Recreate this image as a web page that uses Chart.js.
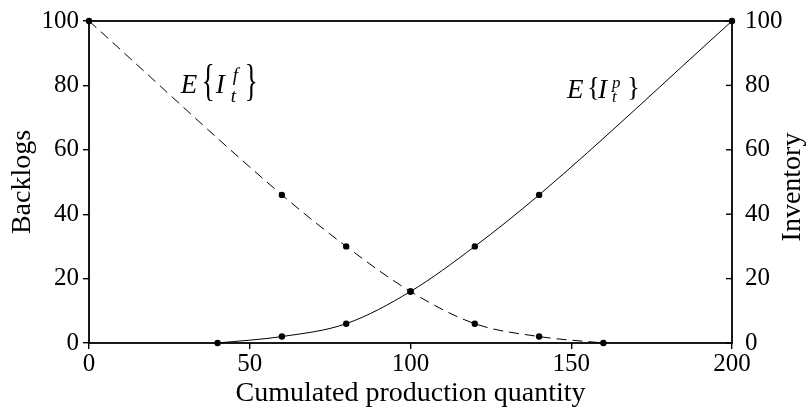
<!DOCTYPE html>
<html>
<head>
<meta charset="utf-8">
<script src="https://cdn.jsdelivr.net/npm/chart.js@4"></script>
<style>
  body { margin: 0; background: #fff; }
  #wrap { width: 809px; height: 407px; }
</style>
</head>
<body>
<div id="wrap"><canvas id="myChart"></canvas></div>
<script>
const backlogX = [0, 60, 80, 100, 120, 140, 160];
const backlogY = [100, 46, 30, 16, 6, 2, 0];
const inventoryX = [40, 60, 80, 100, 120, 140, 200];
const inventoryY = [0, 2, 6, 16, 30, 46, 100];
const xTicks = [0, 50, 100, 150, 200];
const yTicks = [0, 20, 40, 60, 80, 100];

const serif = "'Liberation Serif', 'DejaVu Serif', serif";
Chart.defaults.font.family = serif;
Chart.defaults.color = '#000';

const toPoints = (xs, ys) => xs.map((x, i) => ({ x, y: ys[i] }));

// curve labels, anchored in data units
const curveLabels = [
  { x: 28.5, y: 77.5, sup: 'f', big: true },
  { x: 148.7, y: 76.0, sup: 'p', big: false },
];

function brace(ctx, ch, x, y, big) {
  ctx.save();
  ctx.font = '27px ' + serif;
  ctx.translate(x, y);
  if (big) ctx.scale(1, 1.65);
  ctx.textBaseline = 'middle';
  ctx.fillText(ch, 0, 0);
  ctx.restore();
}

// fixed axis sizes, no extra room for half labels
const fixWidth = (w) => (s) => { s.width = w; s.paddingTop = 0; s.paddingBottom = 0; };

const extras = {
  id: 'extras',
  afterDatasetsDraw(chart) {
    const { ctx, chartArea: a, scales } = chart;
    ctx.save();
    // frame
    ctx.strokeStyle = '#000';
    ctx.lineWidth = 1.8;
    ctx.strokeRect(a.left, a.top, a.right - a.left, a.bottom - a.top);
    // inward ticks on right axis
    ctx.lineWidth = 1.4;
    scales.y2.ticks.forEach((t) => {
      const py = scales.y2.getPixelForValue(t.value);
      ctx.beginPath();
      ctx.moveTo(a.right - 6, py);
      ctx.lineTo(a.right, py);
      ctx.stroke();
    });
    // right title, reading upwards
    ctx.translate(800, (a.top + a.bottom) / 2 + 5);
    ctx.rotate(-Math.PI / 2);
    ctx.font = '28px ' + serif;
    ctx.textAlign = 'center';
    ctx.textBaseline = 'alphabetic';
    ctx.fillText('Inventory', 0, 0);
    ctx.restore();

    // E{I_t^f}, E{I_t^p}
    curveLabels.forEach((l) => {
      const px = scales.x.getPixelForValue(l.x);
      const py = scales.y.getPixelForValue(l.y);
      ctx.save();
      ctx.fillStyle = '#000';
      ctx.textBaseline = 'alphabetic';
      ctx.font = 'italic 27px ' + serif;
      ctx.fillText('E', px, py);
      if (l.big) {
        brace(ctx, '{', px + 21, py - 10, true);
        ctx.font = 'italic 27px ' + serif;
        ctx.fillText('I', px + 35, py);
        ctx.font = 'italic 19px ' + serif;
        ctx.fillText(l.sup, px + 52, py - 12);
        ctx.fillText('t', px + 50, py + 9);
        brace(ctx, '}', px + 64, py - 10, true);
      } else {
        brace(ctx, '{', px + 20, py - 9, false);
        ctx.font = 'italic 27px ' + serif;
        ctx.fillText('I', px + 31, py);
        ctx.font = 'italic 17px ' + serif;
        ctx.fillText(l.sup, px + 45, py - 10);
        ctx.fillText('t', px + 45, py + 4);
        brace(ctx, '}', px + 60, py - 9, false);
      }
      ctx.restore();
    });
  },
};

new Chart(document.getElementById('myChart'), {
  type: 'line',
  data: {
    datasets: [
      {
        label: 'Backlogs',
        data: toPoints(backlogX, backlogY),
        borderColor: '#000',
        backgroundColor: '#000',
        borderWidth: 1,
        borderDash: [10, 6],
        pointRadius: 3.2,
        pointBorderWidth: 0,
        cubicInterpolationMode: 'monotone',
        clip: false,
        yAxisID: 'y',
      },
      {
        label: 'Inventory',
        data: toPoints(inventoryX, inventoryY),
        borderColor: '#000',
        backgroundColor: '#000',
        borderWidth: 1,
        pointRadius: 3.2,
        pointBorderWidth: 0,
        cubicInterpolationMode: 'monotone',
        clip: false,
        yAxisID: 'y2',
      },
    ],
  },
  options: {
    responsive: true,
    maintainAspectRatio: false,
    animation: false,
    layout: { padding: { top: 21, left: 0, right: 0, bottom: 0 } },
    plugins: { legend: { display: false }, tooltip: { enabled: false } },
    scales: {
      x: {
        type: 'linear',
        min: 0,
        max: 200,
        afterFit: (s) => { s.height = 64; s.paddingLeft = 0; s.paddingRight = 0; },
        afterBuildTicks: (s) => { s.ticks = xTicks.map((v) => ({ value: v })); },
        border: { display: false },
        grid: { drawOnChartArea: false, drawTicks: true, tickLength: 6, color: '#000', lineWidth: 1.4 },
        ticks: { font: { size: 25 }, padding: 0, maxRotation: 0 },
        title: { display: true, text: 'Cumulated production quantity', font: { size: 28 }, padding: { top: 0, bottom: -3 } },
      },
      y: {
        position: 'left',
        min: 0,
        max: 100,
        afterFit: fixWidth(89),
        afterBuildTicks: (s) => { s.ticks = yTicks.map((v) => ({ value: v })); },
        border: { display: false },
        grid: { drawOnChartArea: false, drawTicks: true, tickLength: 6, color: '#000', lineWidth: 1.4 },
        ticks: { font: { size: 25 }, padding: 4 },
        title: { display: true, text: 'Backlogs', font: { size: 28 }, padding: { top: 6, bottom: 0 } },
      },
      y2: {
        position: 'right',
        min: 0,
        max: 100,
        afterFit: fixWidth(77),
        afterBuildTicks: (s) => { s.ticks = yTicks.map((v) => ({ value: v })); },
        border: { display: false },
        grid: { display: false, drawTicks: false },
        ticks: { font: { size: 25 }, padding: 13 },
      },
    },
  },
  plugins: [extras],
});
</script>
</body>
</html>
